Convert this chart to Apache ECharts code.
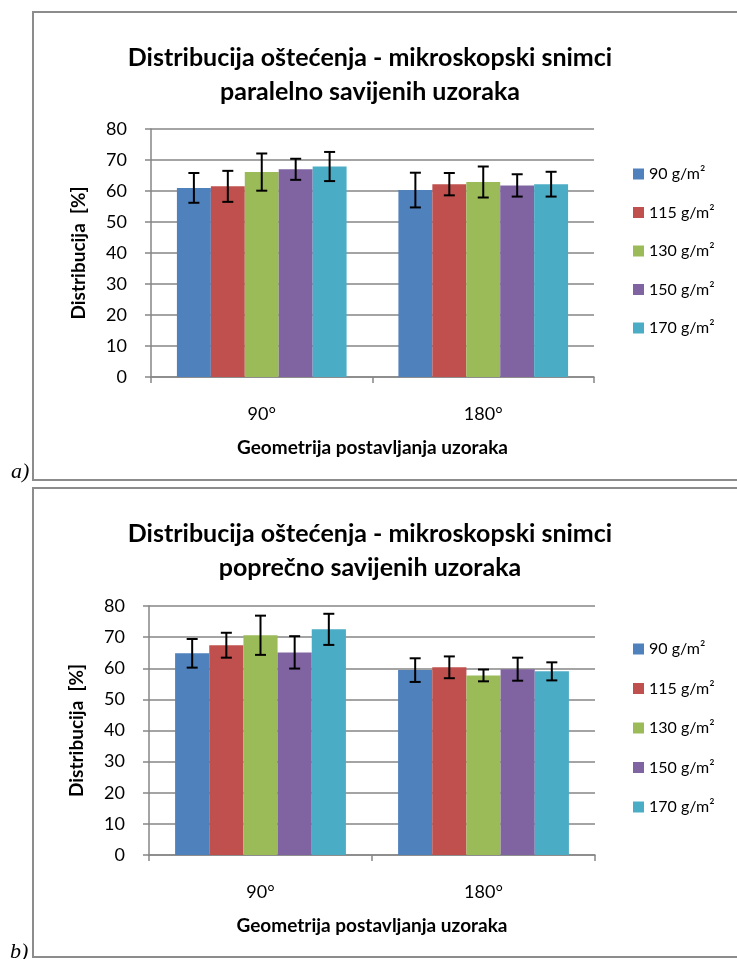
<!DOCTYPE html>
<html>
<head>
<meta charset="utf-8">
<script src="https://cdn.jsdelivr.net/npm/echarts@6/dist/echarts.min.js"></script>
<style>
  html, body { margin: 0; padding: 0; background: #fff; }
  #chart { width: 737px; height: 959px; }
</style>
</head>
<body>
<div id="chart"></div>
<script>
// kategorije i serije
var categories = ['90°', '180°']
var seriesNames = ['90 g/m²', '115 g/m²', '130 g/m²', '150 g/m²', '170 g/m²']
var colors = ['#4F81BD', '#C0504D', '#9BBB59', '#8064A2', '#4BACC6']
var yTicks = [0, 10, 20, 30, 40, 50, 60, 70, 80]

// a) paralelno savijeni uzorci: srednja vrijednost po geometriji
var parallel90 = [61.0, 60.3]
var parallel115 = [61.5, 62.2]
var parallel130 = [66.1, 62.9]
var parallel150 = [67.0, 61.8]
var parallel170 = [67.9, 62.2]
// odstupanja (+/-)
var parallelErr90 = [4.8, 5.6]
var parallelErr115 = [5.0, 3.6]
var parallelErr130 = [6.0, 5.0]
var parallelErr150 = [3.4, 3.6]
var parallelErr170 = [4.7, 4.0]

// b) poprecno savijeni uzorci
var cross90 = [64.8, 59.4]
var cross115 = [67.4, 60.3]
var cross130 = [70.6, 57.7]
var cross150 = [65.1, 59.7]
var cross170 = [72.5, 59.0]
var crossErr90 = [4.6, 3.8]
var crossErr115 = [4.0, 3.5]
var crossErr130 = [6.3, 1.9]
var crossErr150 = [5.2, 3.7]
var crossErr170 = [5.0, 2.9]

var titleA = 'Distribucija oštećenja - mikroskopski snimci\nparalelno savijenih uzoraka'
var titleB = 'Distribucija oštećenja - mikroskopski snimci\npoprečno savijenih uzoraka'
var xName = 'Geometrija postavljanja uzoraka'
var yName = 'Distribucija  [%]'

var FONT = 'Lato'
var GRAY = '#868686'
var GAP = 0.234

var valuesA = [parallel90, parallel115, parallel130, parallel150, parallel170]
var errA = [parallelErr90, parallelErr115, parallelErr130, parallelErr150, parallelErr170]
var valuesB = [cross90, cross115, cross130, cross150, cross170]
var errB = [crossErr90, crossErr115, crossErr130, crossErr150, crossErr170]

const axisX = function (gridIndex) {
  return {
    type: 'category',
    gridIndex: gridIndex,
    data: categories,
    name: xName,
    nameLocation: 'middle',
    nameGap: 61,
    nameTextStyle: {fontFamily: FONT, fontSize: 19, fontWeight: 'bold', color: '#000'},
    axisLine: {lineStyle: {color: GRAY, width: 1.5}},
    axisTick: {show: true, length: 6, lineStyle: {color: GRAY, width: 1.5}},
    axisLabel: {fontFamily: FONT, fontSize: 18, color: '#000', margin: 28},
    splitLine: {show: false},
  }
}

const axisY = function (gridIndex) {
  return {
    type: 'value',
    gridIndex: gridIndex,
    min: yTicks[0],
    max: yTicks[yTicks.length - 1],
    interval: 10,
    name: yName,
    nameLocation: 'middle',
    nameGap: 63,
    nameTextStyle: {fontFamily: FONT, fontSize: 19, fontWeight: 'bold', color: '#000'},
    axisLine: {show: true, lineStyle: {color: GRAY, width: 1.5}},
    axisTick: {show: true, length: 6, lineStyle: {color: GRAY, width: 1.5}},
    axisLabel: {fontFamily: FONT, fontSize: 18, color: '#000', margin: 24},
    splitLine: {lineStyle: {color: GRAY, width: 1.5}},
  }
}

// stupci + error bar-ovi
const buildSeries = function (values, errs, gridIndex) {
  var list = []
  values.forEach(function (vals, i) {
    list.push({
      name: seriesNames[i],
      type: 'bar',
      xAxisIndex: gridIndex,
      yAxisIndex: gridIndex,
      barGap: '0%',
      barCategoryGap: (GAP * 100) + '%',
      itemStyle: {color: colors[i]},
      data: vals,
    })
  })
  values.forEach(function (vals, i) {
    var data = vals.map(function (v, c) {
      return [c, v - errs[i][c], v + errs[i][c]]
    })
    list.push({
      name: 'err' + gridIndex + '_' + i,
      type: 'custom',
      xAxisIndex: gridIndex,
      yAxisIndex: gridIndex,
      z: 10,
      data: data,
      renderItem: function (params, api) {
        var c = api.value(0)
        var lo = api.coord([c, api.value(1)])
        var hi = api.coord([c, api.value(2)])
        var catW = api.size([1, 0])[0]
        var barW = catW * (1 - GAP) / values.length
        var x = lo[0] + (i - (values.length - 1) / 2) * barW
        var cap = 5.5
        var style = {stroke: '#000', lineWidth: 2}
        return {
          type: 'group',
          children: [
            {type: 'line', shape: {x1: x, y1: lo[1], x2: x, y2: hi[1]}, style: style},
            {type: 'line', shape: {x1: x - cap, y1: lo[1], x2: x + cap, y2: lo[1]}, style: style},
            {type: 'line', shape: {x1: x - cap, y1: hi[1], x2: x + cap, y2: hi[1]}, style: style},
          ]
        }
      },
    })
  })
  return list
}

const legendAt = function (top, gap) {
  return {
    orient: 'vertical',
    left: 633,
    top: top,
    padding: 0,
    itemWidth: 11,
    itemHeight: 11,
    itemGap: gap,
    icon: 'rect',
    selectedMode: false,
    data: seriesNames,
    textStyle: {fontFamily: FONT, fontSize: 16, color: '#000', lineHeight: 18},
  }
}

var chart = echarts.init(document.getElementById('chart'), null, {renderer: 'canvas'})
chart.setOption({
  animation: false,
  backgroundColor: '#fff',
  title: [
    {text: titleA, left: 365, top: 36, textAlign: 'center',
      textStyle: {fontFamily: FONT, fontSize: 25, fontWeight: 'bold', color: '#000', lineHeight: 34}},
    {text: titleB, left: 365, top: 512, textAlign: 'center',
      textStyle: {fontFamily: FONT, fontSize: 25, fontWeight: 'bold', color: '#000', lineHeight: 34}},
  ],
  legend: [legendAt(165, 20.5), legendAt(640, 21.5)],
  grid: [
    {left: 151, top: 129, width: 443, height: 248},
    {left: 149, top: 606, width: 446, height: 249},
  ],
  xAxis: [axisX(0), axisX(1)],
  yAxis: [axisY(0), axisY(1)],
  series: buildSeries(valuesA, errA, 0).concat(buildSeries(valuesB, errB, 1)),
  graphic: [
    {type: 'rect', shape: {x: 33, y: 12, width: 720, height: 468}, style: {fill: null, stroke: '#8c8c8c', lineWidth: 2}, silent: true},
    {type: 'rect', shape: {x: 33, y: 488, width: 720, height: 469}, style: {fill: null, stroke: '#8c8c8c', lineWidth: 2}, silent: true},
    {type: 'text', left: 11, top: 461, style: {text: 'a)', font: 'italic 22px "Liberation Serif"', fill: '#000'}},
    {type: 'text', left: 10, top: 941, style: {text: 'b)', font: 'italic 22px "Liberation Serif"', fill: '#000'}},
  ],
})
</script>
</body>
</html>
